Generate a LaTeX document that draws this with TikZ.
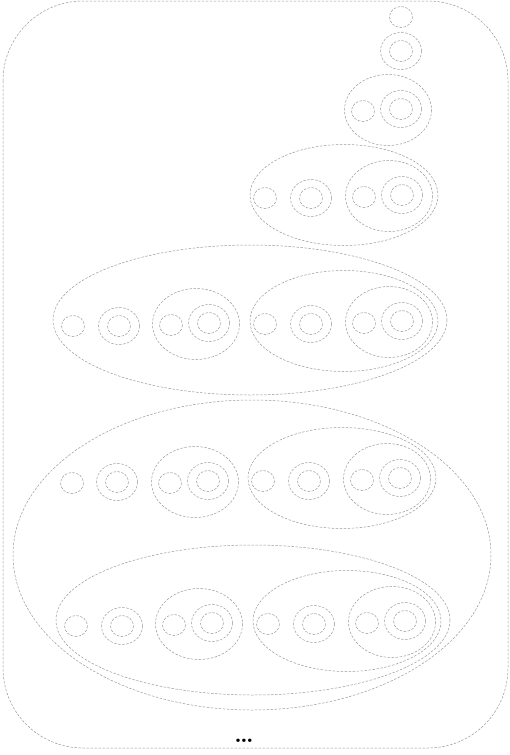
\documentclass[tikz,border=0pt]{standalone}
\tikzset{
  d/.style={draw=gray!80, line width=0.5pt, dash pattern=on 2.5pt off 1.5pt},
}
\newcommand\oZ{\draw[d] (0,0) ellipse (11.5 and 10.5);}
\newcommand\oA{\draw[d] (0,0) ellipse (20.5 and 18.5);\oZ}
\newcommand\oB{\draw[d] (0,0) ellipse (43.5 and 35.5);
  \begin{scope}[shift={(-25,1)}]\oZ\end{scope}
  \begin{scope}[shift={(13,-1)}]\oA\end{scope}}
\newcommand\oC{\draw[d] (0,0) ellipse (94 and 50.5);
  \begin{scope}[shift={(-79,3)}]\oZ\end{scope}
  \begin{scope}[shift={(-33,3)}]\oA\end{scope}
  \begin{scope}[shift={(45,1)}]\oB\end{scope}}
\newcommand\oD{\draw[d] (0,0) ellipse (197 and 75);
  \begin{scope}[shift={(-177,6)}]\oZ\end{scope}
  \begin{scope}[shift={(-131,6)}]\oA\end{scope}
  \begin{scope}[shift={(-54,4)}]\oB\end{scope}
  \begin{scope}[shift={(94,1)}]\oC\end{scope}}
\newcommand\oE{\draw[d] (0,0) ellipse (239 and 155);
  \begin{scope}[shift={(-180,-72)}]\oZ\end{scope}
  \begin{scope}[shift={(-135,-73)}]\oA\end{scope}
  \begin{scope}[shift={(-57,-73)}]\oB\end{scope}
  \begin{scope}[shift={(90,-77)}]\oC\end{scope}
  \begin{scope}[shift={(1,65)}]\oD\end{scope}}
\begin{document}
\begin{tikzpicture}[x=1pt,y=-1pt]
\useasboundingbox (0,0) rectangle (510,755);
\draw[d, rounded corners=80pt] (3,1) rectangle (508,748);
\begin{scope}[shift={(401,17)}]\oZ\end{scope}
\begin{scope}[shift={(401,51)}]\oA\end{scope}
\begin{scope}[shift={(388,110)}]\oB\end{scope}
\begin{scope}[shift={(344,195)}]\oC\end{scope}
\begin{scope}[shift={(250,320)}]\oD\end{scope}
\begin{scope}[shift={(252,555)}]\oE\end{scope}
\node[font=\fontsize{24}{26}\selectfont\bfseries, inner sep=0pt, anchor=base] (dots) at (244,742) {\ldots};
\end{tikzpicture}
\end{document}
